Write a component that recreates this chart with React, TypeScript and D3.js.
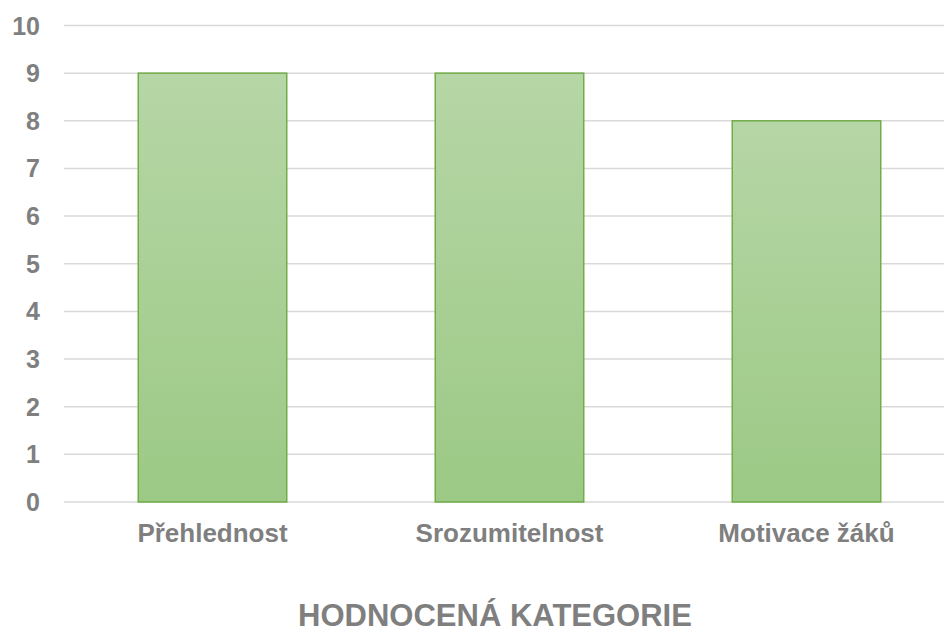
import React from "react";
import * as d3 from "d3";

const categories = ["Přehlednost", "Srozumitelnost", "Motivace žáků"];
const values = [9, 9, 8];
const yTicks = [0, 1, 2, 3, 4, 5, 6, 7, 8, 9, 10];
const axisTitle = "HODNOCENÁ KATEGORIE";

export default function App() {
  const W = 944, H = 633;
  const left = 64, right = 955, top = 25.5, bottom = 502;
  const x = d3.scaleBand<string>().domain(categories).range([left, right]).paddingInner(0.5).paddingOuter(0.25);
  const y = d3.scaleLinear().domain([0, 10]).range([bottom, top]);
  const font = "'Liberation Sans', Arial, sans-serif";
  return (
    <svg width={W} height={H} style={{ position: "absolute", left: 0, top: 0, background: "#fff" }}>
      <defs>
        <linearGradient id="barGrad" x1="0" y1="0" x2="0" y2="1">
          <stop offset="0%" stopColor="#b6d6a6" />
          <stop offset="100%" stopColor="#9cc985" />
        </linearGradient>
      </defs>
      {yTicks.map((t) => (
        <g key={t}>
          <line x1={left} x2={W} y1={y(t)} y2={y(t)} stroke="#d9d9d9" strokeWidth={1.5} />
          <text x={40} y={y(t)} dy="0.36em" textAnchor="end" fontFamily={font} fontWeight="bold" fontSize={25} fill="#7f7f7f">{t}</text>
        </g>
      ))}
      {categories.map((c, i) => (
        <g key={c}>
          <rect x={x(c)!} y={y(values[i])} width={x.bandwidth()} height={y(0) - y(values[i])} fill="url(#barGrad)" stroke="#70ad47" strokeWidth={1.5} />
          <text x={x(c)! + x.bandwidth() / 2} y={542} textAnchor="middle" fontFamily={font} fontWeight="bold" fontSize={26} fill="#7f7f7f">{c}</text>
        </g>
      ))}
      <text x={495} y={626} textAnchor="middle" fontFamily={font} fontWeight="bold" fontSize={31} fill="#7f7f7f">{axisTitle}</text>
    </svg>
  );
}
